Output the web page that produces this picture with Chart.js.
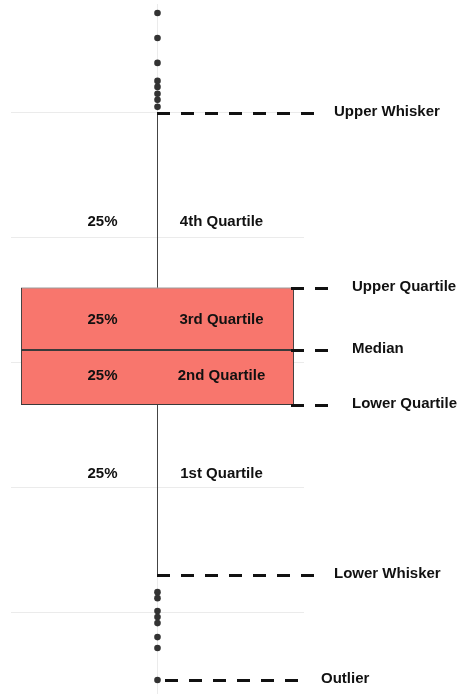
<!DOCTYPE html>
<html lang="en">
<head>
    <meta charset="UTF-8">
    <title>Box Plot Anatomy</title>
    <script src="https://cdn.jsdelivr.net/npm/chart.js"></script>
    <style>
        body { margin: 0; background: #fff; }
        #wrap { width: 461px; height: 698px; position: relative; }
    </style>
</head>
<body>
    <div id="wrap"><canvas id="boxChart"></canvas></div>
    <script>
        // Data
        const categories = ['Sample'];
        const quartiles = [26.6, 31, 36];          // lower quartile, median, upper quartile
        const whiskers = [13, 50];                 // lower whisker, upper whisker
        const outliersHigh = [58, 56, 54, 52.56, 52.08, 51.52, 51.04, 50.48];
        const outliersLow = [11.6, 11.12, 10.08, 9.6, 9.12, 8, 7.12, 4.56];
        const yRange = [3.44, 58.72];

        const regionShares = ['25%', '25%', '25%', '25%'];
        const regionNames = ['4th Quartile', '3rd Quartile', '2nd Quartile', '1st Quartile'];
        const regionLabelY = [41.3, 33.4, 28.9, 21.1];

        const markerNames = ['Upper Whisker', 'Upper Quartile', 'Median', 'Lower Quartile', 'Lower Whisker', 'Outlier'];
        const markerValues = [whiskers[1], quartiles[2], quartiles[1], quartiles[0], whiskers[0], outliersLow[7]];

        const boxFill = '#f8766d';
        const ink = '#111';

        // leader lines: [from, to, label x] in pixels
        const leaderLayout = [
            [157, 316, 334],
            [291, 328, 352],
            [291, 328, 352],
            [291, 328, 352],
            [157, 316, 334],
            [165, 300, 321]
        ];

        const annotations = {
            id: 'annotations',
            afterDatasetsDraw(chart) {
                const ctx = chart.ctx;
                const y = chart.scales.y;
                const cx = chart.scales.x.getPixelForValue(0);
                ctx.save();
                ctx.font = 'bold 15px "Liberation Sans", Arial, sans-serif';
                ctx.fillStyle = ink;
                ctx.textBaseline = 'middle';

                // shares and quartile names
                ctx.textAlign = 'center';
                regionNames.forEach((name, i) => {
                    const py = y.getPixelForValue(regionLabelY[i]);
                    ctx.fillText(regionShares[i], cx - 55, py);
                    ctx.fillText(name, cx + 64, py);
                });

                // dashed leaders and their labels
                ctx.strokeStyle = ink;
                ctx.lineWidth = 3;
                ctx.setLineDash([13, 11]);
                ctx.textAlign = 'left';
                markerNames.forEach((name, i) => {
                    const py = Math.round(y.getPixelForValue(markerValues[i])) + 0.5;
                    const [x0, x1, lx] = leaderLayout[i];
                    ctx.beginPath();
                    ctx.moveTo(x0, py);
                    ctx.lineTo(x1, py);
                    ctx.stroke();
                    ctx.fillText(name, lx, py - 1.5);
                });
                ctx.restore();
            }
        };

        const dotStyle = {
            type: 'line',
            showLine: false,
            pointRadius: 3.3,
            pointBackgroundColor: '#333',
            pointBorderWidth: 0
        };

        const config = {
            type: 'bar',
            data: {
                labels: categories,
                datasets: [
                    {
                        label: 'Upper half',
                        data: [[quartiles[1], quartiles[2]]],
                        backgroundColor: boxFill,
                        borderColor: '#3a3a3a',
                        borderWidth: 1,
                        borderSkipped: false,
                        grouped: false,
                        order: 1
                    },
                    {
                        label: 'Lower half',
                        data: [[quartiles[0], quartiles[1]]],
                        backgroundColor: boxFill,
                        borderColor: '#3a3a3a',
                        borderWidth: 1,
                        borderSkipped: false,
                        grouped: false,
                        order: 1
                    },
                    {
                        type: 'line',
                        label: 'Upper whisker',
                        data: [{x: 0, y: quartiles[2]}, {x: 0, y: whiskers[1]}],
                        borderColor: '#444',
                        borderWidth: 1,
                        pointRadius: 0,
                        order: 2
                    },
                    {
                        type: 'line',
                        label: 'Lower whisker',
                        data: [{x: 0, y: whiskers[0]}, {x: 0, y: quartiles[0]}],
                        borderColor: '#444',
                        borderWidth: 1,
                        pointRadius: 0,
                        order: 2
                    },
                    Object.assign({
                        label: 'High outliers',
                        data: outliersHigh.map(v => ({x: 0, y: v})),
                        order: 0
                    }, dotStyle),
                    Object.assign({
                        label: 'Low outliers',
                        data: outliersLow.map(v => ({x: 0, y: v})),
                        order: 0
                    }, dotStyle)
                ]
            },
            options: {
                responsive: true,
                maintainAspectRatio: false,
                animation: false,
                layout: { padding: { left: 11, right: 157, top: 0, bottom: 0 } },
                categoryPercentage: 1,
                barPercentage: 0.932,
                scales: {
                    x: {
                        offset: true,
                        grid: { offset: false, color: '#ebebeb', drawTicks: false },
                        border: { display: false },
                        ticks: { display: false }
                    },
                    y: {
                        min: yRange[0],
                        max: yRange[1],
                        ticks: { display: false, stepSize: 10 },
                        grid: {
                            drawTicks: false,
                            color: c => (Math.abs(c.tick.value % 10) < 1e-6 ? '#ebebeb' : 'rgba(0,0,0,0)')
                        },
                        border: { display: false }
                    }
                },
                plugins: {
                    legend: { display: false },
                    tooltip: { enabled: false }
                }
            },
            plugins: [annotations]
        };

        const boxChart = new Chart(document.getElementById('boxChart'), config);
    </script>
</body>
</html>
